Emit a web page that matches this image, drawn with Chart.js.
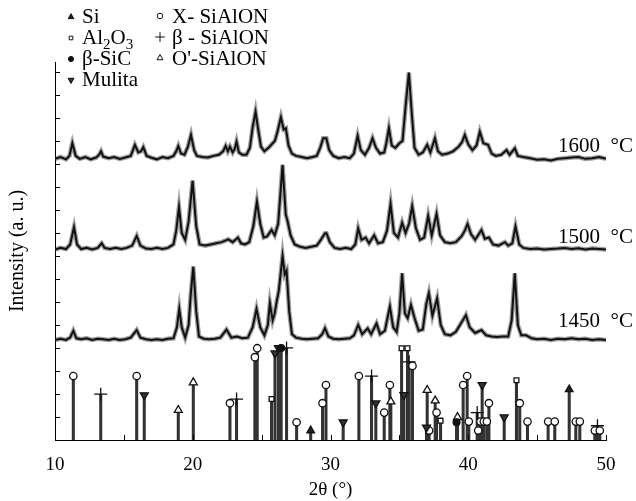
<!DOCTYPE html>
<html>
<head>
<meta charset="utf-8">
<script src="https://cdn.jsdelivr.net/npm/chart.js@4.4.1/dist/chart.umd.min.js"></script>
<style>
  html, body { margin: 0; padding: 0; background: #fff; }
</style>
</head>
<body>
<canvas id="xrd" width="636" height="501"></canvas>
<script>
const SERIF = '"Liberation Serif", "Times New Roman", serif';

// measured patterns, [2theta, intensity] (each pattern shifted up on a common arbitrary scale)
const scan1600 = [[10.0,12.22],[10.4,12.30],[10.8,12.20],[11.05,12.35],[11.26,12.9],[11.5,12.35],[11.8,12.22],[12.2,12.3],[12.6,12.2],[13.0,12.28],[13.2,12.4],[13.34,12.55],[13.5,12.32],[13.9,12.25],[14.3,12.3],[14.7,12.22],[15.1,12.28],[15.5,12.35],[15.8,12.83],[16.05,12.5],[16.25,12.55],[16.41,12.73],[16.65,12.35],[17.0,12.27],[17.4,12.2],[17.8,12.3],[18.2,12.25],[18.6,12.35],[18.8,12.55],[18.95,12.78],[19.15,12.45],[19.4,12.4],[19.65,12.75],[19.87,13.26],[20.1,12.6],[20.3,12.35],[20.7,12.3],[21.1,12.28],[21.5,12.35],[21.9,12.4],[22.2,12.55],[22.39,12.78],[22.55,12.55],[22.7,12.75],[22.9,12.5],[23.05,12.65],[23.18,12.97],[23.35,12.5],[23.6,12.4],[23.9,12.4],[24.15,12.7],[24.35,13.6],[24.56,14.27],[24.75,13.5],[24.95,12.75],[25.2,12.55],[25.5,12.7],[25.8,12.9],[25.96,13.0],[26.15,13.4],[26.4,14.03],[26.6,13.5],[26.76,13.55],[26.95,12.8],[27.2,12.45],[27.5,12.35],[27.9,12.3],[28.3,12.25],[28.7,12.3],[29.0,12.35],[29.25,12.7],[29.47,13.12],[29.7,13.12],[29.9,12.6],[30.2,12.35],[30.6,12.25],[31.0,12.3],[31.4,12.25],[31.7,12.45],[31.97,13.22],[32.2,12.6],[32.5,12.4],[32.8,12.7],[33.05,13.12],[33.3,12.7],[33.6,12.45],[33.9,12.5],[34.05,12.9],[34.24,13.55],[34.45,12.8],[34.7,12.7],[35.0,12.9],[35.23,13.0],[35.45,14.5],[35.69,15.97],[35.9,14.2],[36.1,12.7],[36.4,12.4],[36.7,12.5],[37.02,12.83],[37.25,12.5],[37.58,13.12],[37.8,12.55],[38.1,12.4],[38.5,12.45],[38.9,12.55],[39.3,12.75],[39.55,12.95],[39.75,13.26],[40.0,12.85],[40.3,12.6],[40.6,12.8],[40.84,13.4],[41.1,12.9],[41.44,12.83],[41.7,12.45],[42.0,12.35],[42.4,12.4],[42.78,12.6],[43.0,12.4],[43.38,12.68],[43.6,12.35],[44.0,12.3],[44.5,12.25],[45.0,12.18],[45.5,12.2],[46.0,12.15],[46.5,12.22],[47.0,12.25],[47.5,12.28],[48.0,12.3],[48.5,12.22],[49.0,12.25],[49.5,12.3],[50.0,12.22]];

const scan1500 = [[10.0,8.28],[10.4,8.35],[10.8,8.3],[11.1,8.5],[11.38,9.25],[11.6,8.5],[11.9,8.3],[12.3,8.35],[12.7,8.28],[13.1,8.35],[13.39,8.55],[13.6,8.35],[14.0,8.3],[14.4,8.35],[14.8,8.3],[15.2,8.35],[15.6,8.45],[15.93,8.87],[16.2,8.45],[16.6,8.32],[17.0,8.3],[17.4,8.35],[17.8,8.3],[18.2,8.35],[18.6,8.5],[18.8,9.1],[19.0,10.12],[19.2,9.0],[19.45,8.7],[19.7,9.5],[19.99,11.27],[20.25,9.3],[20.5,8.5],[20.9,8.45],[21.3,8.5],[21.7,8.55],[22.1,8.6],[22.58,8.72],[22.9,8.6],[23.1,8.7],[23.28,8.8],[23.5,8.55],[23.8,8.5],[24.1,8.6],[24.4,9.3],[24.66,10.36],[24.9,9.4],[25.15,8.8],[25.4,8.85],[25.72,9.13],[25.95,8.9],[26.2,9.4],[26.52,11.96],[26.75,9.8],[26.86,9.57],[27.1,8.9],[27.4,8.5],[27.8,8.4],[28.2,8.35],[28.6,8.4],[29.0,8.45],[29.3,8.7],[29.6,8.99],[29.71,8.99],[29.95,8.6],[30.3,8.35],[30.7,8.3],[31.1,8.35],[31.5,8.3],[31.8,8.5],[32.01,9.2],[32.25,8.7],[32.55,8.8],[32.8,8.55],[33.17,8.9],[33.45,8.55],[33.8,8.6],[34.1,9.1],[34.36,10.26],[34.6,9.0],[34.9,8.8],[35.2,9.45],[35.45,9.0],[35.7,9.4],[35.93,10.17],[36.2,9.2],[36.5,8.7],[36.8,8.8],[37.09,9.74],[37.35,8.9],[37.7,9.83],[37.95,8.9],[38.3,8.6],[38.7,8.55],[39.1,8.6],[39.52,8.86],[39.75,9.1],[39.95,9.39],[40.2,8.95],[40.5,8.7],[40.96,9.13],[41.2,8.75],[41.5,8.8],[41.8,8.5],[42.2,8.45],[42.66,8.6],[42.9,8.45],[43.2,8.55],[43.43,9.28],[43.7,8.5],[44.0,8.35],[44.5,8.3],[45.0,8.32],[45.5,8.28],[46.0,8.3],[46.5,8.32],[47.0,8.35],[47.5,8.3],[48.0,8.33],[48.5,8.28],[49.0,8.32],[49.5,8.3],[50.0,8.28]];

const scan1450 = [[10.0,4.35],[10.4,4.4],[10.8,4.35],[11.1,4.45],[11.33,4.75],[11.55,4.42],[11.9,4.38],[12.3,4.42],[12.7,4.35],[13.1,4.4],[13.5,4.38],[13.9,4.35],[14.3,4.4],[14.7,4.35],[15.1,4.38],[15.5,4.45],[15.93,4.78],[16.2,4.45],[16.6,4.38],[17.0,4.35],[17.4,4.38],[17.8,4.35],[18.2,4.4],[18.6,4.42],[18.85,4.9],[19.02,5.7],[19.2,4.9],[19.45,4.45],[19.7,5.0],[19.85,6.3],[20.04,7.54],[20.25,5.6],[20.45,4.5],[20.8,4.4],[21.2,4.38],[21.6,4.4],[22.0,4.45],[22.45,4.8],[22.8,4.45],[23.2,4.5],[23.6,4.42],[24.0,4.45],[24.35,4.9],[24.63,5.7],[24.9,4.9],[25.2,4.55],[25.45,5.0],[25.6,5.94],[25.8,5.2],[25.95,5.5],[26.09,6.01],[26.25,6.5],[26.52,8.0],[26.68,7.2],[26.81,7.36],[27.0,5.6],[27.2,4.6],[27.5,4.45],[27.9,4.4],[28.3,4.38],[28.7,4.4],[29.1,4.42],[29.4,4.6],[29.6,4.86],[29.85,4.5],[30.2,4.4],[30.6,4.38],[31.0,4.4],[31.4,4.42],[31.7,4.55],[32.01,5.0],[32.3,4.6],[32.7,4.85],[32.95,4.6],[33.34,5.07],[33.6,4.6],[33.95,4.75],[34.1,5.2],[34.31,5.8],[34.55,4.9],[34.8,4.7],[35.0,5.5],[35.2,7.25],[35.4,5.5],[35.6,5.3],[35.84,5.87],[36.1,5.3],[36.4,4.75],[36.7,4.8],[36.95,5.9],[37.14,6.38],[37.4,5.4],[37.74,6.16],[38.0,5.0],[38.3,4.6],[38.7,4.55],[39.1,4.7],[39.4,5.0],[39.83,5.43],[40.1,4.9],[40.5,4.65],[40.96,4.78],[41.3,4.55],[41.7,4.5],[42.1,4.48],[42.5,4.5],[42.9,4.5],[43.15,5.2],[43.38,7.25],[43.6,5.0],[43.85,4.55],[44.2,4.55],[44.6,4.42],[45.0,4.38],[45.5,4.4],[46.0,4.35],[46.5,4.4],[47.0,4.38],[47.5,4.42],[48.0,4.38],[48.5,4.4],[49.0,4.35],[49.5,4.38],[50.0,4.35]];

const scanLabels = ['1600  \u00B0C', '1500  \u00B0C', '1450  \u00B0C'];

// reference peak positions (2theta) and relative heights, one list per phase
const siPos = [28.56, 47.33];
const siH = [0.41, 2.2];
const aluminaPos = [25.72, 35.16, 35.59, 37.99, 43.5];
const aluminaH = [1.78, 3.99, 3.99, 0.84, 2.6];
const sicPos = [26.42, 39.15];
const sicH = [4.0, 0.77];
const mullitePos = [16.48, 25.97, 26.22, 30.92, 33.29, 35.33, 36.97, 41.01, 42.61];
const mulliteH = [1.95, 3.77, 4.0, 0.77, 1.6, 1.96, 0.55, 2.39, 0.99];
const xSialonPos = [11.33, 15.93, 22.70, 24.51, 24.68, 27.54, 29.42, 29.67, 32.06, 33.9, 34.31, 35.95, 37.16, 37.7, 39.63, 39.92, 40.04, 40.72, 40.89, 41.13, 41.35, 41.5, 43.74, 44.3, 45.8, 46.28, 47.81, 48.1, 49.19, 49.55];
const xSialonH = [2.78, 2.78, 1.6, 3.6, 3.99, 0.77, 1.6, 2.39, 2.78, 1.19, 2.39, 3.22, 0.41, 1.19, 2.39, 2.78, 0.8, 0.41, 0.8, 0.8, 0.8, 1.6, 1.6, 0.8, 0.8, 0.8, 0.8, 0.8, 0.41, 0.41];
const bSialonPos = [13.32, 23.18, 26.81, 32.98, 35.71, 40.65, 49.38];
const bSialonH = [1.99, 1.78, 4.0, 2.78, 3.4, 1.19, 0.62];
const oSialonPos = [18.95, 20.04, 34.38, 37.02, 37.6, 39.22];
const oSialonH = [1.3, 2.5, 1.67, 2.17, 1.71, 0.99];

const phases = [
  { name: 'Si', pos: siPos, h: siH, style: 'triangle', rot: 0, fill: '#222', r: 4.4 },
  { name: 'Al2O3', pos: aluminaPos, h: aluminaH, style: 'rect', rot: 0, fill: '#fff', r: 3.4 },
  { name: '\u03B2-SiC', pos: sicPos, h: sicH, style: 'circle', rot: 0, fill: '#111', r: 3.4 },
  { name: 'Mulita', pos: mullitePos, h: mulliteH, style: 'triangle', rot: 180, fill: '#333', r: 4.6 },
  { name: 'X- SiAlON', pos: xSialonPos, h: xSialonH, style: 'circle', rot: 0, fill: '#fff', r: 3.7 },
  { name: '\u03B2 - SiAlON', pos: bSialonPos, h: bSialonH, style: 'cross', rot: 0, fill: '#fff', r: 6.5 },
  { name: "O'-SiAlON", pos: oSialonPos, h: oSialonH, style: 'triangle', rot: 0, fill: '#fff', r: 4.6 }
];

const toXY = arr => arr.map(p => ({ x: p[0], y: p[1] }));

const datasets = [];
// marker on top of each stick
phases.forEach(p => {
  datasets.push({
    type: 'scatter',
    label: p.name,
    data: p.pos.map((x, i) => ({ x: x, y: p.h[i] })),
    pointStyle: p.style,
    rotation: p.rot,
    pointRadius: p.r,
    pointBackgroundColor: p.fill,
    pointBorderColor: '#111',
    pointBorderWidth: 1.3,
    order: 0
  });
});
// sticks
datasets.push({
  type: 'bar',
  label: 'sticks',
  data: phases.flatMap(p => p.pos.map((x, i) => ({ x: x, y: p.h[i] }))),
  backgroundColor: '#333',
  barThickness: 2.4,
  order: 1
});
// scans: dark trace over a grey halo (the noise band of the recording)
[scan1600, scan1500, scan1450].forEach((s, i) => {
  datasets.push({
    type: 'line',
    label: scanLabels[i],
    data: toXY(s),
    borderColor: '#111',
    borderWidth: 2,
    pointRadius: 0,
    tension: 0,
    order: 2
  });
  datasets.push({
    type: 'line',
    label: scanLabels[i] + ' halo',
    data: toXY(s),
    borderColor: 'rgba(40,40,40,0.45)',
    borderWidth: 4.5,
    pointRadius: 0,
    tension: 0,
    order: 3
  });
});

// inward ticks, temperature labels and the phase key
const decor = {
  id: 'decor',
  afterDraw(chart) {
    const { ctx, chartArea: a, scales: { x, y } } = chart;
    ctx.save();
    ctx.strokeStyle = '#000';
    ctx.lineWidth = 1;
    for (let v = 10; v <= 50; v += 5) {
      const px = Math.round(x.getPixelForValue(v)) + 0.5;
      ctx.beginPath(); ctx.moveTo(px, a.bottom); ctx.lineTo(px, a.bottom - 5); ctx.stroke();
    }
    for (let v = 0; v <= 16; v++) {
      const py = Math.round(y.getPixelForValue(v)) + 0.5;
      ctx.beginPath(); ctx.moveTo(a.left, py); ctx.lineTo(a.left + 5, py); ctx.stroke();
    }

    const big = '21px ' + SERIF;
    ctx.textBaseline = 'alphabetic';
    // temperature labels at right end of each scan
    const lift = [7, 7, 13];
    [scan1600, scan1500, scan1450].forEach((s, i) => {
      const last = s[s.length - 1][1];
      ctx.fillStyle = '#000';
      ctx.font = big;
      ctx.fillText(scanLabels[i], 558, y.getPixelForValue(last) - lift[i]);
    });

    // phase key
    const draw = (p, cx, cy) => {
      ctx.fillStyle = p.fill;
      ctx.strokeStyle = '#111';
      Chart.helpers.drawPoint(ctx, { pointStyle: p.style, radius: p.r * 0.75, rotation: p.rot, borderWidth: 1 }, cx, cy);
    };
    const rowY = [23, 44, 65, 86];
    [0, 1, 2, 3].forEach(i => {
      const p = phases[i];
      draw(p, 71, rowY[i] - 6);
      ctx.fillStyle = '#000';
      if (p.name === 'Al2O3') {
        let tx = 82;
        const parts = [['Al', 0, 21], ['2', 5, 15], ['O', 0, 21], ['3', 5, 15]];
        parts.forEach(q => {
          ctx.font = q[2] + 'px ' + SERIF;
          ctx.fillText(q[0], tx, rowY[i] + q[1]);
          tx += ctx.measureText(q[0]).width;
        });
      } else {
        ctx.font = big;
        ctx.fillText(p.name, 82, rowY[i]);
      }
    });
    [4, 5, 6].forEach((k, i) => {
      const p = phases[k];
      draw(p, 160, rowY[i] - 7);
      ctx.fillStyle = '#000';
      ctx.font = big;
      ctx.fillText(p.name, 172, rowY[i]);
    });
    ctx.restore();
  }
};

new Chart(document.getElementById('xrd'), {
  type: 'scatter',
  data: { datasets: datasets },
  options: {
    responsive: false,
    animation: false,
    layout: { padding: { top: 62, right: 30, left: 0, bottom: 0 } },
    plugins: {
      legend: { display: false },
      tooltip: { enabled: false }
    },
    scales: {
      x: {
        type: 'linear',
        min: 10,
        max: 50,
        offset: false,
        grid: { display: false },
        border: { display: true, color: '#000', width: 1 },
        ticks: {
          stepSize: 5,
          padding: 6,
          color: '#000',
          font: { family: SERIF, size: 19 },
          callback: v => (v % 10 === 0 ? v : '')
        },
        title: {
          display: true,
          text: '2\u03B8 (\u00B0)',
          color: '#000',
          font: { family: SERIF, size: 19 },
          padding: { top: 0, bottom: 0 }
        },
        afterFit(s) { s.height = 61; }
      },
      y: {
        type: 'linear',
        min: 0,
        max: 16.43,
        grid: { display: false },
        border: { display: true, color: '#000', width: 1 },
        ticks: { display: false, stepSize: 1 },
        title: {
          display: true,
          text: 'Intensity (a. u.)',
          color: '#000',
          font: { family: SERIF, size: 20 },
          padding: { top: 6, bottom: 0 }
        },
        afterFit(s) { s.width = 55; }
      }
    }
  },
  plugins: [decor]
});
</script>
</body>
</html>
